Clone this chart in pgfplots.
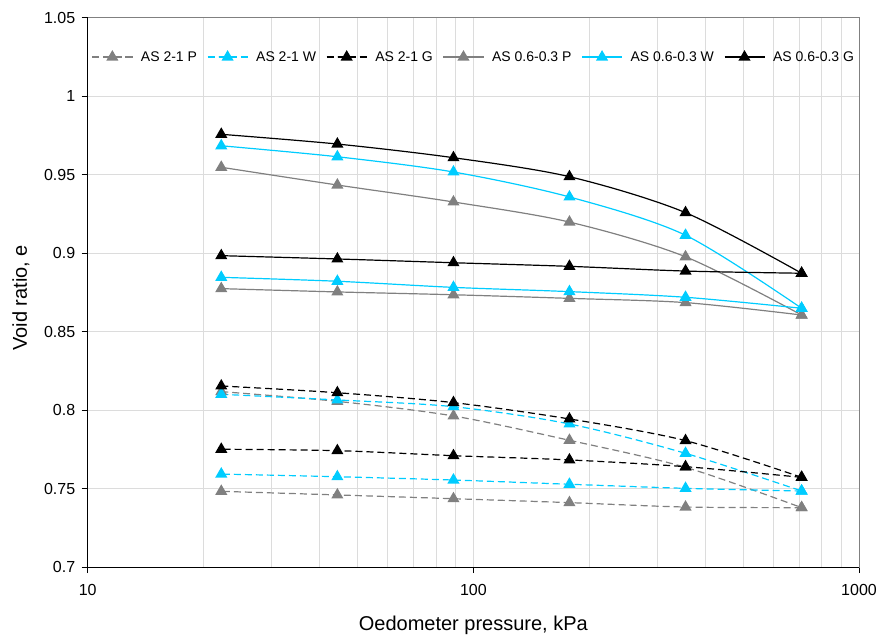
\documentclass[border=0pt]{standalone}
\usepackage{fontspec}
\setmainfont{Liberation Sans}
\usepackage{pgfplots}
\pgfplotsset{compat=1.18}
\definecolor{mgray}{HTML}{808080}
\definecolor{mcyan}{HTML}{00CCFF}
\definecolor{gridc}{HTML}{DCDCDC}
\begin{document}
\begin{tikzpicture}
\useasboundingbox (-87.7pt,-68pt) rectangle (792.3pt,567pt);
\begin{axis}[
  name=ax,
  anchor=south west, at={(0pt,0pt)},
  scale only axis, width=771.3pt, height=549.5pt,
  xmode=log, log basis x=10,
  xmin=10, xmax=1000, ymin=0.7, ymax=1.05,
  xtick={10,100,1000}, xticklabels={10,100,1000},
  minor xtick={20,30,40,50,60,70,80,90,200,300,400,500,600,700,800,900},
  ytick={0.7,0.75,0.8,0.85,0.9,0.95,1,1.05},
  yticklabels={0.7,0.75,0.8,0.85,0.9,0.95,1,1.05},
  /pgf/number format/assume math mode=true,
  grid=both,
  major grid style={gridc, line width=0.8pt},
  minor grid style={gridc, line width=0.8pt},
  tick pos=left, tick align=outside,
  major tick length=6pt, minor tick length=0pt,
  tick style={black, line width=0.8pt},
  axis line style={mgray, line width=0.8pt},
  ticklabel style={font=\fontsize{16}{18}\selectfont},
  xticklabel style={yshift=-8pt},
  yticklabel style={xshift=-3pt},
  xlabel={Oedometer pressure, kPa},
  ylabel={Void ratio, e},
  every axis x label/.style={at={(axis description cs:0.5,-0.1056)}, anchor=center, font=\fontsize{20}{22}\selectfont},
  every axis y label/.style={at={(axis description cs:-0.0865,0.49)}, anchor=center, rotate=90, font=\fontsize{20}{22}\selectfont},
  legend columns=6,
  legend style={at={(axis description cs:0.005,0.928)}, anchor=west, draw=none, fill=none,
    inner sep=0pt, font=\fontsize{14}{16}\selectfont,
    /tikz/every odd column/.append style={column sep=6pt},
    /tikz/every even column/.append style={column sep=8pt}},
  legend cell align=left,
  legend image code/.code={\draw[mark repeat=2, mark phase=2] plot coordinates {(0pt,0pt) (20pt,0pt) (40pt,0pt)};},
  every axis plot/.append style={smooth, tension=0.5, line width=1.2pt, mark=triangle*, mark size=5.8pt},
  clip=false,
]
% AS 2-1 P
\addplot[mgray, dash pattern=on 7pt off 4pt, mark options={solid, fill=mgray}] coordinates {
 (22.2,0.8117) (44.4,0.8055) (88.8,0.7962) (177.5,0.7807) (355,0.7635) (710,0.7378)};
\addlegendentry{AS 2-1 P}
% AS 2-1 W
\addplot[mcyan, dash pattern=on 7pt off 4pt, mark options={solid, fill=mcyan}] coordinates {
 (22.2,0.8100) (44.4,0.8064) (88.8,0.8021) (177.5,0.7911) (355,0.7724) (710,0.7484)};
\addlegendentry{AS 2-1 W}
% AS 2-1 G
\addplot[black, dash pattern=on 7pt off 4pt, mark options={solid, fill=black}] coordinates {
 (22.2,0.8153) (44.4,0.8110) (88.8,0.8047) (177.5,0.7943) (355,0.7805) (710,0.7571)};
\addlegendentry{AS 2-1 G}
% AS 0.6-0.3 P
\addplot[mgray, mark options={fill=mgray}] coordinates {
 (22.2,0.9546) (44.4,0.9433) (88.8,0.9325) (177.5,0.9197) (355,0.8976) (710,0.8605)};
\addlegendentry{AS 0.6-0.3 P}
% AS 0.6-0.3 W
\addplot[mcyan, mark options={fill=mcyan}] coordinates {
 (22.2,0.9683) (44.4,0.9613) (88.8,0.9516) (177.5,0.9357) (355,0.9113) (710,0.8648)};
\addlegendentry{AS 0.6-0.3 W}
% AS 0.6-0.3 G
\addplot[black, mark options={fill=black}] coordinates {
 (22.2,0.9756) (44.4,0.9694) (88.8,0.9607) (177.5,0.9486) (355,0.9257) (710,0.8871)};
\addlegendentry{AS 0.6-0.3 G}
% unloading branches
\addplot[forget plot, mgray, dash pattern=on 7pt off 4pt, mark options={solid, fill=mgray}] coordinates {
 (710,0.7378) (355,0.7382) (177.5,0.7410) (88.8,0.7435) (44.4,0.7459) (22.2,0.7482)};
\addplot[forget plot, mcyan, dash pattern=on 7pt off 4pt, mark options={solid, fill=mcyan}] coordinates {
 (710,0.7484) (355,0.7501) (177.5,0.7527) (88.8,0.7554) (44.4,0.7575) (22.2,0.7592)};
\addplot[forget plot, black, dash pattern=on 7pt off 4pt, mark options={solid, fill=black}] coordinates {
 (710,0.7571) (355,0.7639) (177.5,0.7682) (88.8,0.7709) (44.4,0.7741) (22.2,0.7750)};
\addplot[forget plot, mgray, mark options={fill=mgray}] coordinates {
 (710,0.8605) (355,0.8684) (177.5,0.8711) (88.8,0.8734) (44.4,0.8752) (22.2,0.8773)};
\addplot[forget plot, mcyan, mark options={fill=mcyan}] coordinates {
 (710,0.8648) (355,0.8718) (177.5,0.8754) (88.8,0.8781) (44.4,0.8820) (22.2,0.8845)};
\addplot[forget plot, black, mark options={fill=black}] coordinates {
 (710,0.8871) (355,0.8885) (177.5,0.8915) (88.8,0.8938) (44.4,0.8962) (22.2,0.8983)};
\end{axis}
\draw[black, line width=0.8pt] (ax.north west) -- (ax.south west) -- (ax.south east);
\end{tikzpicture}
\end{document}
